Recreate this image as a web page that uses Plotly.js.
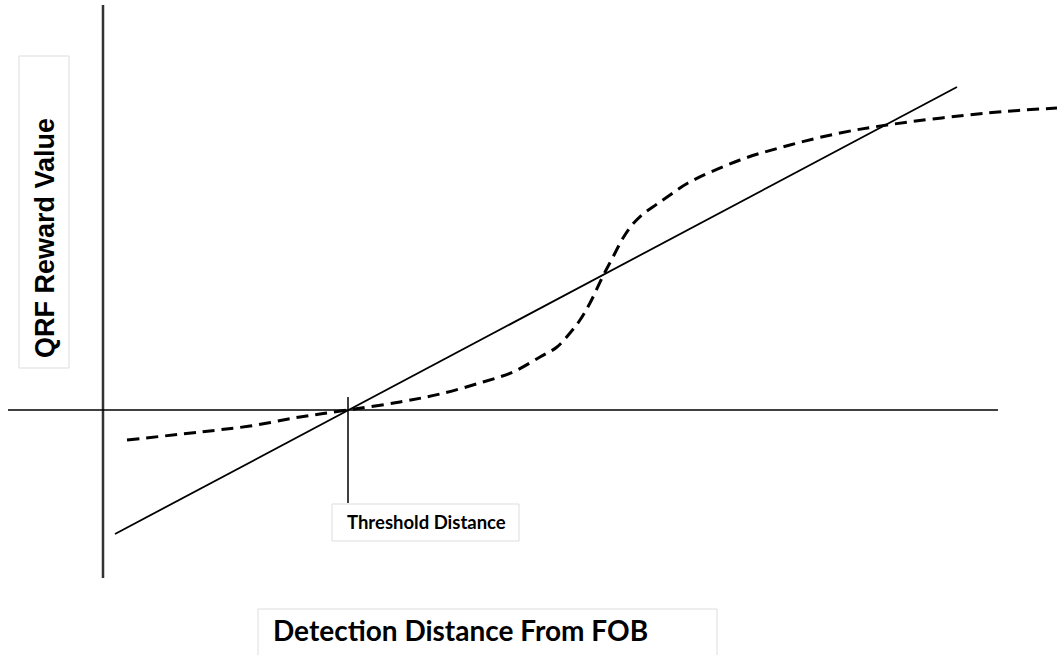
<!DOCTYPE html>
<html>
<head>
<meta charset="utf-8">
<script src="https://cdn.plot.ly/plotly-3.0.1.min.js"></script>
<style>html,body{margin:0;padding:0;background:#fff;}#chart{width:1057px;height:655px;}</style>
</head>
<body>
<div id="chart"></div>
<script>
// Schematic values (abstract units: distance from FOB, reward value)
const sigmoidDistance = [24, 97, 147, 197, 245, 297, 337, 380, 410, 437, 454, 467, 477, 487, 500, 510, 520, 529, 540, 554, 567, 585, 637, 687, 737, 784, 884, 954];
const sigmoidReward   = [-30, -22, -16, -7, 0, 8, 16, 28, 38, 53, 63, 77, 90, 107, 134, 153, 172, 185, 196, 206, 215, 227, 250, 265, 277, 285, 297, 302];
const linearDistance = [12, 854];
const linearReward   = [-124, 323];
const thresholdDistance = 245;
const thresholdSpan = [13, -93];
const labels = {
  y: "QRF Reward Value",
  x: "Detection Distance From FOB",
  threshold: "Threshold Distance"
};

const traces = [
  {x: linearDistance, y: linearReward, mode: 'lines', line: {color: '#000', width: 1.8}, hoverinfo: 'skip'},
  {x: sigmoidDistance, y: sigmoidReward, mode: 'lines', line: {color: '#000', width: 3, dash: '12px,7px', shape: 'spline', smoothing: 1}, hoverinfo: 'skip'},
  {x: [thresholdDistance, thresholdDistance], y: thresholdSpan, mode: 'lines', line: {color: '#000', width: 1.5}, hoverinfo: 'skip'}
];

const box = (x0, x1, y0, y1) => ({type: 'rect', xref: 'x', yref: 'y', x0, x1, y0, y1, line: {color: '#dddddd', width: 1}, fillcolor: 'rgba(0,0,0,0)', layer: 'below'});

const layout = {
  width: 1057, height: 655,
  margin: {l: 0, r: 0, t: 0, b: 0},
  paper_bgcolor: '#fff', plot_bgcolor: '#fff',
  showlegend: false,
  xaxis: {range: [-103, 954], visible: false, fixedrange: true},
  yaxis: {range: [-245, 410], visible: false, fixedrange: true},
  shapes: [
    box(-84, -34, 42, 354),
    box(229, 416, -94, -131),
    box(155, 614, -199, -260),
    {type: 'line', xref: 'x', yref: 'y', x0: 0, x1: 0, y0: 405, y1: -168, line: {color: '#333', width: 2.5}},
    {type: 'line', xref: 'x', yref: 'y', x0: -95, x1: 895, y0: 0, y1: 0, line: {color: '#000', width: 1.6}}
  ],
  annotations: [
    {x: -58, y: 172, xref: 'x', yref: 'y', text: '<b>' + labels.y + '</b>', showarrow: false, textangle: -90,
     font: {family: 'Liberation Sans, Arial, sans-serif', size: 27, color: '#000'}},
    {x: 323, y: -112, xref: 'x', yref: 'y', text: '<b>' + labels.threshold + '</b>', showarrow: false,
     font: {family: 'Lato, sans-serif', size: 18.5, color: '#000'}},
    {x: 357, y: -220, xref: 'x', yref: 'y', text: '<b>' + labels.x + '</b>', showarrow: false,
     font: {family: 'Lato, sans-serif', size: 28, color: '#000'}}
  ]
};

Plotly.newPlot('chart', traces, layout, {displayModeBar: false, staticPlot: true});
</script>
</body>
</html>
